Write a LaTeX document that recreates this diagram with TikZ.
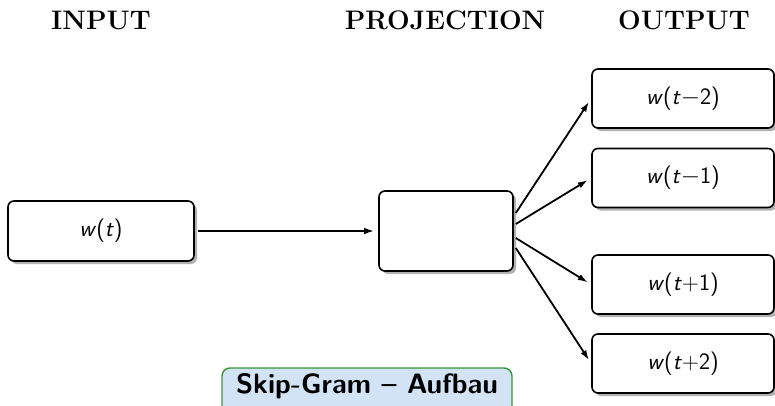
\documentclass[tikz,border=0pt]{standalone}
\usepackage{fontspec}
\usetikzlibrary{shadows,arrows.meta}
\definecolor{lblfill}{RGB}{211,227,246}
\definecolor{lbldraw}{RGB}{52,150,52}
\tikzset{
  wbox/.style={draw=black, line width=1.6pt, rounded corners=6pt, fill=white,
    drop shadow={shadow xshift=3pt, shadow yshift=-3pt, fill=black!30, opacity=1},
    font=\fontsize{23.5}{26}\selectfont\sffamily, inner sep=0pt},
  hdr/.style={font=\fontsize{26.8}{30}\selectfont\bfseries, anchor=base, inner sep=0pt},
  conn/.style={line width=1.8pt, -{Latex[length=10pt,width=6.5pt]}},
}
\newcommand{\wminus}[1]{\textit{w}(\textit{t}{$-$}#1)}
\newcommand{\wplus}[1]{\textit{w}(\textit{t}+#1)}
\begin{document}
\begin{tikzpicture}[x=1pt,y=-1pt]
\useasboundingbox (0,0) rectangle (775,405);
\node[hdr] (hin) at (101,29) {INPUT};
\node[hdr] (hpr) at (445,29) {PROJECTION};
\node[hdr] (hout) at (684,29) {OUTPUT};

\node[wbox, minimum width=186pt, minimum height=60pt] (in) at (101,231) {\textit{w}(\textit{t})};
\node[wbox, minimum width=134pt, minimum height=80pt] (pr) at (446,231) {};
\node[wbox, minimum width=182pt, minimum height=59pt] (o1) at (683,98.5) {\wminus{2}};
\node[wbox, minimum width=182pt, minimum height=59pt] (o2) at (683,178) {\wminus{1}};
\node[wbox, minimum width=182pt, minimum height=59pt] (o3) at (683,284.5) {\wplus{1}};
\node[wbox, minimum width=182pt, minimum height=59pt] (o4) at (683,363.5) {\wplus{2}};

\draw[conn, shorten <=3pt, shorten >=4pt] (in.east) -- (pr.west);
\draw[conn, shorten >=4pt] ([xshift=2pt,yshift=18pt]pr.east) -- (o1.west);
\draw[conn, shorten >=4pt] ([xshift=2pt,yshift=7pt]pr.east) -- (o2.west);
\draw[conn, shorten >=4pt] ([xshift=2pt,yshift=-7pt]pr.east) -- (o3.west);
\draw[conn, shorten >=4pt] ([xshift=2pt,yshift=-17pt]pr.east) -- (o4.west);

\node[draw=lbldraw, fill=lblfill, line width=1.4pt, rounded corners=8pt,
  font=\fontsize{28}{30}\selectfont\sffamily\bfseries, anchor=base,
  minimum width=290pt, inner xsep=2pt, inner ysep=5pt, text height=20pt, text depth=16pt] (lbl) at (367,393) {Skip-Gram -- Aufbau};
\end{tikzpicture}
\end{document}
